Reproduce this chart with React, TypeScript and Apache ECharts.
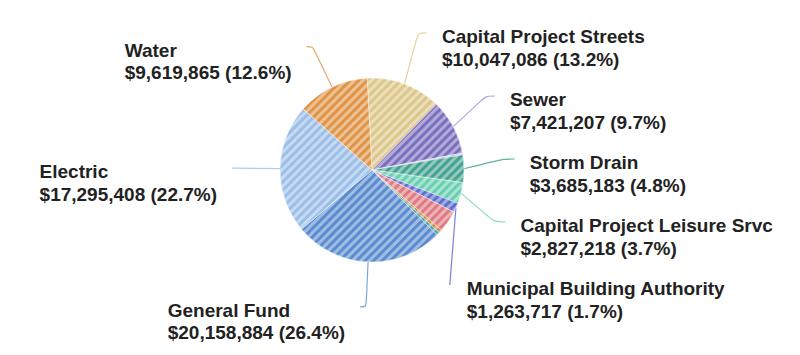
import React, { useEffect, useRef } from "react";
import * as echarts from "echarts";

// Fund categories, clockwise from the top of the pie
const categories = [
  "Capital Project Streets",
  "Sewer",
  "Other Fund A",
  "Storm Drain",
  "Capital Project Leisure Srvc",
  "Municipal Building Authority",
  "Other Fund B",
  "Other Fund C",
  "Other Fund D",
  "General Fund",
  "Electric",
  "Water",
];

// Amounts in dollars (unlabeled slices are estimates)
const amounts = [
  10047086, 7421207, 230000, 3685183, 2827218, 1263717, 2900000, 450000,
  400000, 20158884, 17295408, 9619865,
];

// Which labels sit on the left and which on the right of the pie
const leftLabels = ["General Fund", "Electric", "Water"];
const rightLabels = [
  "Capital Project Streets",
  "Sewer",
  "Storm Drain",
  "Capital Project Leisure Srvc",
  "Municipal Building Authority",
];

const palette = [
  "#dcc68a",
  "#7a6fbe",
  "#cbb0ea",
  "#45a290",
  "#68d0b0",
  "#5d6fd0",
  "#e07a82",
  "#d9893f",
  "#3da5a5",
  "#5b8ccf",
  "#9cbfe9",
  "#df9447",
];

const lineColors: Record<string, string> = {
  "Capital Project Streets": "#e3cf8e",
  Sewer: "#a69be0",
  "Storm Drain": "#4fa898",
  "Capital Project Leisure Srvc": "#7fd6bb",
  "Municipal Building Authority": "#6a73d0",
  "General Fund": "#6f9bd6",
  Electric: "#a9c6ec",
  Water: "#e3a05a",
};

// per-label line tuning (style only)
const len1: Record<string, number> = {
  "Capital Project Streets": 38,
  "Municipal Building Authority": 50,
};
const len2: Record<string, number> = {
  "Capital Project Streets": 9,
  Sewer: 9,
  "Storm Drain": 11,
  "Capital Project Leisure Srvc": 11,
  "Municipal Building Authority": 8.5,
  "General Fund": 6,
  Electric: 3,
  Water: 6,
};

const FONT = "Liberation Sans, Arial, Helvetica, sans-serif";

const labelBase = {
  show: true,
  position: "outside",
  distanceToLabelLine: 5,
  padding: [0, 10, 0, 10],
  color: "#222222",
  fontFamily: FONT,
  fontSize: 19,
  fontWeight: "bold",
  formatter: (p: any) =>
    `{e| }\n{a|${p.name}}\n{b|$${Number(p.value).toLocaleString("en-US")} (${Number(
      p.percent
    ).toFixed(1)}%)}`,
  rich: {
    e: { fontSize: 6, lineHeight: 15.5, align: "left" },
    a: {
      fontFamily: FONT,
      fontSize: 19,
      fontWeight: "bold",
      color: "#222222",
      lineHeight: 36.5,
      align: "left",
    },
    b: {
      fontFamily: FONT,
      fontSize: 19,
      fontWeight: "bold",
      color: "#222222",
      lineHeight: 8.5,
      align: "left",
    },
  },
};

export default function App() {
  const ref = useRef<HTMLDivElement>(null);

  useEffect(() => {
    if (!ref.current) return;
    const chart = echarts.init(ref.current, null, { renderer: "svg" });

    const makeData = (visible: boolean, shown: string[]) =>
      categories.map((name, i) => {
        const show = shown.indexOf(name) >= 0;
        const item: any = {
          name,
          value: amounts[i],
          itemStyle: visible
            ? { color: palette[i] }
            : { color: "rgba(0,0,0,0)", borderWidth: 0, decal: null },
          label: { show },
          labelLine: {
            show,
            length: len1[name] ?? 45,
            length2: len2[name] ?? 6,
            lineStyle: { color: lineColors[name] || palette[i], opacity: 0.9 },
          },
        };
        if (name === "Municipal Building Authority") {
          item.label = { show, distanceToLabelLine: 14, padding: [0, 10, 0, 3] };
        }
        return item;
      });

    const common = {
      type: "pie",
      center: [372, 170],
      radius: 92,
      startAngle: 93,
      clockwise: true,
      avoidLabelOverlap: true,
      label: labelBase,
      labelLine: {
        show: true,
        length: 45,
        length2: 6,
        smooth: 0.3,
        lineStyle: { width: 1.2 },
      },
      emphasis: { disabled: true },
    };

    chart.setOption({
      animation: false,
      backgroundColor: "#ffffff",
      series: [
        {
          ...common,
          left: 0,
          top: 0,
          right: 0,
          bottom: 0,
          itemStyle: {
            borderColor: "rgba(255,255,255,0.5)",
            borderWidth: 0.5,
            decal: {
              symbol: "rect",
              symbolSize: 1,
              dashArrayX: [1, 0],
              dashArrayY: [3, 3],
              rotation: -Math.PI / 4,
              color: "rgba(255,255,255,0.42)",
            },
          },
          data: makeData(true, leftLabels),
        },
        {
          ...common,
          left: 0,
          top: 0,
          right: 0,
          bottom: 33.5,
          silent: true,
          itemStyle: { color: "rgba(0,0,0,0)", borderWidth: 0 },
          data: makeData(false, rightLabels),
        },
      ],
    });
    return () => chart.dispose();
  }, []);

  return (
    <div
      ref={ref}
      style={{ position: "fixed", left: 0, top: 0, width: 800, height: 355, background: "#fff" }}
    />
  );
}
